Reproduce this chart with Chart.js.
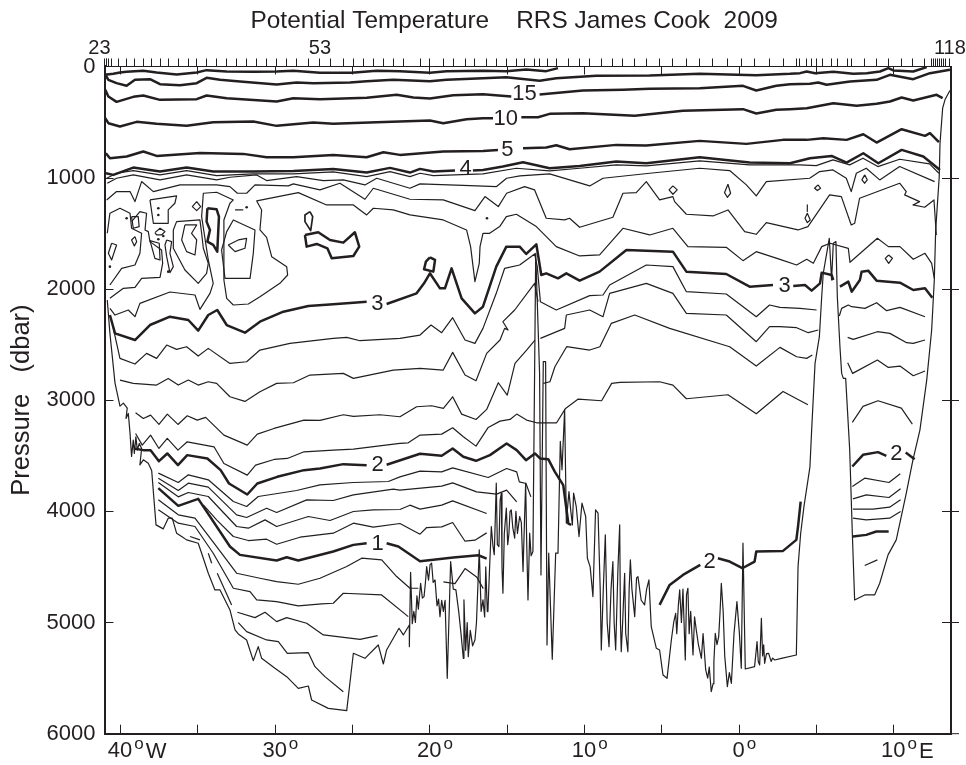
<!DOCTYPE html>
<html>
<head>
<meta charset="utf-8">
<title>Potential Temperature RRS James Cook 2009</title>
<script src="https://cdn.jsdelivr.net/npm/chart.js@4"></script>
<style>
  body { margin: 0; background: #fff; }
  canvas { display: block; }
</style>
</head>
<body>
<canvas id="section" width="966" height="765"></canvas>
<script>
// Axis values
const lonTicks = [-40, -35, -30, -25, -20, -15, -10, -5, 0, 5, 10];
const lonLabels = { "-40": "40", "-30": "30", "-20": "20", "-10": "10", "0": "0", "10": "10" };
const lonSuffix = { "-40": "W", "10": "E" };
const pressureTicks = [0, 1000, 2000, 3000, 4000, 5000, 6000];

// Station marks along the top, with the three numbered stations
const stationLons = [-40.97,-40.9,-40.84,-40.77,-40.53,-40.11,-39.57,-39.03,-38.49,-37.95,-37.41,-36.88,-36.23,-35.58,-35.04,-34.4,-33.75,-33.1,-32.46,-31.81,-31.16,-30.52,-29.87,-29.22,-28.58,-27.82,-27.07,-26.42,-25.56,-24.91,-24.27,-23.62,-22.97,-22.33,-21.68,-20.6,-19.96,-19.09,-18.45,-17.69,-17.05,-16.31,-15.67,-15.02,-14.37,-13.84,-13.19,-12.87,-12.33,-11.75,-11.03,-10.28,-9.63,-8.88,-8.13,-7.48,-6.72,-5.97,-5.11,-4.25,-3.38,-2.52,-1.66,-0.69,0.17,1.03,2,2.87,3.73,3.94,4.38,4.7,5.02,5.45,5.99,6.42,7.07,7.28,8.15,8.9,9.66,10.52,11.27,12.03,12.46,12.59,12.72,12.84,12.97,13.1,13.23,13.36,13.66];
const stationNames = { "-40.97": "23  ", "-27.07": "53", "13.66": "118" };

// Contour labels: text, longitude, pressure
const contourLabels = [
  ["15", -13.84, 240], ["10", -15.06, 465], ["5", -14.96, 741], ["4", -17.65, 909],
  ["3", -23.36, 2130], ["3", 2.97, 1965], ["2", -23.34, 3576], ["1", -23.34, 4281],
  ["2", -1.88, 4443], ["2", 10.19, 3471]
];

// Heavy isotherms, [longitude, pressure]
const nearSurface = [[-40.97,75],[-40.43,66],[-40,54],[-39.57,48],[-38.49,39],[-37.63,54],[-36.34,72],[-35.04,54],[-34.4,33],[-33.1,45],[-31.38,48],[-29.87,45],[-28.79,39],[-27.07,57],[-25.02,57],[-23.4,39],[-21.9,42],[-19.96,57],[-18.88,42],[-16.53,39],[-15.02,42],[-13.73,27],[-12.44,42],[-11.68,15]];
const upper20 = [[-40.97,66],[-40.75,120],[-40.22,150],[-39.57,174],[-39.03,120],[-38.06,114],[-37.41,159],[-36.12,168],[-35.04,150],[-34.4,102],[-33.53,120],[-32.24,135],[-29.87,162],[-28.58,144],[-27.5,150],[-25.13,144],[-24.05,132],[-22.33,120],[-19.96,132],[-18.88,120],[-16.53,105],[-15.02,96],[-12.87,129],[-11.79,105],[-9.2,84],[-5.75,81],[-2.52,66],[1.14,78],[3.32,66],[3.97,60],[4.4,45],[4.94,60],[6.12,48],[7.41,66],[8.28,60],[9.14,45],[9.68,15],[10,36],[11.29,45],[12.16,6]];
const iso15a = [[-40.95,210],[-40.75,270],[-40.22,318],[-39.14,273],[-38.49,261],[-37.41,300],[-35.04,294],[-34.4,261],[-33.1,285],[-29.87,315],[-28.79,285],[-27.07,294],[-24.05,282],[-22.11,255],[-21.03,279],[-19.96,288],[-18.45,258],[-16.53,249],[-14.7,270]];
const iso15b = [[-12.87,252],[-10.07,216],[-7.48,210],[-5.75,201],[-2.52,195],[0.28,174],[1.14,216],[2.44,174],[3.32,159],[4.61,156],[5.15,144],[5.69,165],[7.2,135],[8.92,120],[9.78,75],[11.29,114],[12.37,60],[13.66,30]];
const iso10a = [[-40.95,465],[-40.75,510],[-40,540],[-38.92,498],[-37.63,516],[-35.69,534],[-33.97,501],[-31.38,495],[-29.87,534],[-27.5,504],[-26.21,516],[-23.4,501],[-19.96,486],[-19.1,510],[-17.59,474],[-16.53,465],[-15.88,465]];
const iso10b = [[-14.05,456],[-12.97,456],[-12.22,426],[-10.07,420],[-6.72,444],[-3.6,399],[0.28,384],[1.14,423],[2.44,390],[3.32,384],[4.4,375],[6.12,330],[7.63,354],[8.92,336],[9.78,315],[10.54,279],[11.29,306],[12.8,255],[13.19,285]];
const iso5a = [[-40.91,780],[-40.65,825],[-39.57,810],[-38.49,765],[-37.63,804],[-34.83,777],[-32.03,786],[-30.52,816],[-28.79,816],[-26.21,795],[-24.05,816],[-22.97,771],[-21.9,795],[-19.1,765],[-16.53,759],[-15.56,750]];
const iso5b = [[-13.94,735],[-12.44,729],[-11.79,708],[-10.93,744],[-7.91,705],[-5.97,711],[-2.52,669],[0.5,696],[2.87,660],[4.4,660],[5.47,645],[6.98,660],[8.06,609],[8.92,684],[10.54,564],[12.05,624],[12.37,600],[12.95,681]];
const iso4a = [[-40.91,960],[-40.43,975],[-39.14,909],[-37.41,945],[-35.69,909],[-33.97,945],[-31.38,945],[-28.79,939],[-26.21,921],[-24.05,954],[-22.54,912],[-21.25,954],[-20.6,921],[-19.74,945],[-18.34,936]];
const iso4b = [[-17.18,936],[-16.53,930],[-15.24,900],[-13.94,861],[-12.22,915],[-10.28,894],[-7.91,855],[-5.97,870],[-2.52,816],[0.71,864],[3.32,870],[4.61,825],[6.01,804],[6.98,864],[8.06,780],[9.03,870],[10.54,750],[11.94,810],[13.02,930]];
const iso3a = [[-40.65,2235],[-40.32,2400],[-39.03,2460],[-38.06,2325],[-36.77,2250],[-35.58,2280],[-34.94,2376],[-34.29,2235],[-33.71,2190],[-33.1,2325],[-31.92,2394],[-30.95,2295],[-29.44,2205],[-27.82,2154],[-25.99,2136],[-24.05,2115]];
const iso3b = [[-22.76,2136],[-20.82,2040],[-20.34,1950],[-19.96,1860],[-19.31,1995],[-18.99,1995],[-18.56,1815],[-17.91,2085],[-17.05,2220],[-16.53,2160],[-15.67,1800],[-15.02,1620],[-14.16,1620],[-13.73,1686],[-13.08,1599],[-12.76,1875],[-12.44,1860],[-11.68,1905],[-11.14,1860],[-10.28,1926],[-8.99,1845],[-7.26,1650],[-4.25,1665],[-3.38,1845],[-0.8,1866],[0.71,1980],[2.22,1965]];
const iso3c = [[3.53,1974],[4.29,1965],[4.72,2016],[5.26,1950],[5.37,1854],[6.01,1875],[6.12,1920]];
const iso3d = [[6.55,1980],[7.09,1935],[7.31,2025],[7.84,1920],[7.95,1845],[8.38,1836],[8.92,1926],[10.43,1944],[11.29,2010],[12.05,1995],[12.52,2079]];
const iso3LoopA = [[-34.35,1275],[-33.75,1284],[-33.6,1350],[-33.71,1665],[-33.97,1605],[-34.35,1575],[-34.18,1470],[-34.4,1395]];
const iso3LoopB = [[-28.04,1515],[-27.18,1491],[-26.42,1560],[-25.56,1584],[-24.81,1491],[-24.53,1620],[-24.91,1704],[-26.31,1725],[-26.59,1635],[-27.28,1596],[-27.93,1620]];
const iso3LoopC = [[-19.96,1716],[-19.63,1740],[-19.74,1845],[-20.34,1824],[-20.22,1755]];
const iso3LoopD = [[-27.72,1305],[-27.54,1350],[-27.67,1476],[-28.04,1395],[-28.04,1335]];
const iso2a = [[-39.09,3435],[-38.49,3450],[-38.02,3450],[-37.48,3549],[-36.94,3480],[-36.25,3585],[-35.65,3495],[-34.35,3525],[-33.49,3630],[-32.95,3750],[-31.77,3849],[-31.12,3750],[-29.83,3690],[-28.1,3630],[-27.07,3615],[-25.56,3576],[-24.05,3585]];
const iso2b = [[-22.76,3582],[-20.6,3483],[-19.2,3501],[-18.49,3435],[-17.8,3510],[-16.98,3546],[-16.08,3495],[-15,3390],[-14.35,3450],[-13.75,3540],[-13.17,3480],[-12.84,3525],[-12.31,3531],[-11.88,3645],[-11.34,3765],[-11.01,4110],[-10.82,4122]];
const iso2c = [[-5.11,4842],[-4.46,4662],[-3.6,4572],[-2.48,4482]];
const iso2d = [[-1.34,4422],[-0.58,4452],[0.24,4512],[1.03,4452],[1.14,4362],[2.87,4356],[3.73,4257],[3.84,4137],[4.01,3912]];
const iso2e = [[7.35,3597],[8.04,3492],[9.01,3468],[9.55,3501]];
const iso2f = [[10.8,3471],[11.38,3531]];
const iso1a = [[-37.52,3792],[-36.23,3951],[-34.94,3888],[-32.89,4317],[-32.24,4392],[-29.87,4443],[-29.22,4413],[-28.47,4443],[-26.21,4362],[-24.91,4302],[-24.05,4287]];
const iso1b = [[-22.76,4287],[-22,4317],[-20.6,4449],[-18.45,4416],[-16.83,4395],[-16.29,4425]];
const iso1c = [[7.39,4227],[8.25,4212],[8.9,4182],[9.7,4182]];

// Thin isotherms
const thinA = [[-40.86,1005],[-40.22,960],[-39.14,936],[-37.41,975],[-35.69,936],[-33.75,981],[-31.38,966],[-28.79,966],[-26.21,948],[-24.05,990],[-22.54,945],[-21.25,990],[-20.6,960],[-19.74,981],[-16.53,966],[-14.37,915],[-12.22,939],[-10.28,915],[-7.91,885],[-5.97,894],[-2.52,849],[0.71,885],[3.94,885],[5.02,891],[6.1,840],[7.18,885],[8.04,825],[9,900],[10.41,834],[12.34,876],[12.95,960]];
const thinB = [[-40.82,1050],[-40.22,1005],[-39.14,975],[-37.41,1020],[-35.69,975],[-33.75,1020],[-32.89,996],[-31.16,975],[-30.52,1026],[-28.58,990],[-26.85,1026],[-25.56,1020],[-24.16,1065],[-23.4,1005],[-21.25,1095],[-20.6,1056],[-17.37,1071],[-15.65,1080],[-15,1005],[-14.14,984],[-12.22,966],[-9.63,1074],[-8.77,1005],[-5.75,960],[-2.52,915],[-0.58,936],[0.5,1065],[1.14,1164],[1.79,1035],[4.59,1005],[5.24,945],[6.1,930],[6.96,1005],[7.28,1125],[7.61,960],[8.25,915],[9.12,1020],[10.41,900],[12.67,1035]];
const thinC = [[-40.86,1200],[-40.22,1125],[-39.35,1125],[-39.03,1215],[-38.6,1035],[-37.84,1125],[-36.12,1065],[-33.75,1065],[-32.89,1080],[-32.41,1140],[-31.81,1140],[-31.27,1065],[-29.12,1074],[-28.79,1056],[-27.07,1110],[-25.78,1050],[-24.16,1194],[-23.62,1095],[-21.25,1194],[-19.1,1200],[-17.05,1296],[-16.4,1170],[-15.54,1260],[-15,1140],[-13.84,1080],[-13.19,1110],[-12.44,1365],[-11.25,1380],[-10.93,1365],[-10.28,1446],[-8.13,1356],[-7.48,1140],[-6.62,1134],[-5.97,1035],[-5.11,1200],[-4.25,1170],[-4.14,1215],[-3.38,1329],[-1.66,1344],[-0.69,1290],[0.39,1485],[1.14,1509],[1.79,1404],[3.84,1470],[4.48,1440],[5.88,1155],[6.64,1170],[7.28,1425],[7.5,1410],[7.82,1185],[10.41,1050],[10.84,1125],[10.73,1155],[11.7,1215],[11.27,1245],[12.03,1266],[12.63,1200],[12.78,1515]];
const thinD = [[-40.65,2175],[-40.32,2235],[-39.46,2190],[-39.03,2250],[-38.71,2130],[-36.77,2028],[-35.15,2055],[-34.83,2184],[-34.18,2040],[-33.97,1950],[-34.29,1740],[-34.72,1350],[-34.61,1140],[-33.75,1131],[-32.67,1200],[-32.89,1230],[-33.28,1380],[-33.28,1920],[-33.1,2085],[-32.67,2145],[-31.7,2136],[-30.95,2070],[-29.66,1950],[-29.16,1875],[-29.22,1800],[-30.19,1710],[-30.52,1536],[-30.95,1470],[-30.84,1290],[-31.16,1209],[-28.47,1134],[-26.64,1245],[-24.91,1245],[-24.05,1335],[-23.62,1275],[-22.33,1290],[-21.25,1335],[-19.1,1380],[-17.59,1470],[-17.33,1620],[-17.05,1935],[-16.77,1770],[-16.72,1620],[-16.53,1500],[-16.1,1500],[-15.45,1440],[-15.02,1350],[-14.37,1329],[-13.08,1440],[-11.79,1620],[-10.28,1704],[-8.99,1695],[-7.48,1455],[-5.75,1515],[-4.25,1455],[-3.28,1620],[-0.8,1626],[0.28,1746],[1.14,1665],[2.67,1734],[3.75,1785],[4.4,1734],[4.83,1770],[5.37,1620],[5.91,1590],[7.09,1635],[7.2,1761],[8.97,1545],[9.68,1620],[10.43,1620],[11.29,1734],[12.05,1680],[12.48,1770],[12.65,1905]];
const thinE = [[-40.65,1965],[-39.89,1815],[-39.03,1785],[-38.71,1680],[-38.6,1500],[-39.25,1455],[-39.35,1320],[-40,1275],[-40.65,1320],[-40.82,1500]];
const thinF = [[-40.65,2085],[-39.78,1995],[-39.03,1986],[-38.6,1905],[-37.41,1896],[-37.24,1770],[-37.31,1650],[-38.06,1575],[-38.17,1485],[-38.38,1470],[-38.28,1320],[-38.71,1305],[-39.25,1395]];
const thinG = [[-40.43,2355],[-40,2625],[-39.03,2676],[-38.28,2580],[-37.63,2625],[-36.98,2505],[-36.34,2544],[-35.69,2520],[-34.94,2604],[-34.29,2535],[-32.89,2670],[-31.81,2655],[-30.95,2550],[-29.01,2490],[-26.21,2445],[-25.34,2436],[-24.48,2466],[-21.9,2445],[-20.6,2415],[-19.89,2325],[-19.2,2394],[-18.49,2259],[-17.69,2460],[-17.05,2490],[-16.53,2355],[-15.67,2040],[-15.13,1815],[-14.16,1785],[-13.19,1686],[-13.02,1800],[-12.82,2115],[-11.79,2190],[-9.63,2061],[-8.77,2055],[-8.34,1965],[-5.97,1785],[-4.25,1800],[-3.38,2025],[-0.8,2046],[1.14,2250],[2,2145],[2.67,2166],[3.97,2175],[5.04,2190]];
const thinH = [[-40,2820],[-39.14,2850],[-37.63,2865],[-36.88,2805],[-36.23,2865],[-35.58,2820],[-34.94,2865],[-34.29,2835],[-33.75,2850],[-32.89,2970],[-31.92,3012],[-30.95,2925],[-29.87,2850],[-28.79,2844],[-27.72,2775],[-25.56,2760],[-24.91,2805],[-22.33,2730],[-20.6,2715],[-19.1,2730],[-18.49,2571],[-17.69,2775],[-16.98,2826],[-16.29,2580],[-15.43,2460],[-15.13,2355],[-14.91,2370],[-15.24,2295],[-14.48,2190],[-13.19,1950],[-12.97,2115]];
const thinI = [[-12.82,2445],[-11.25,2355],[-11.14,2235],[-9.63,2190],[-8.77,2250],[-8.34,2040],[-5.97,1950],[-4.25,2040],[-3.38,2220],[-0.8,2235],[1.14,2475],[2,2340],[2.67,2340],[3.75,2349],[4.5,2394],[5.15,2370]];
const thinJ = [[-38.99,3114],[-38.49,3165],[-38.02,3135],[-37.48,3219],[-36.94,3126],[-36.25,3219],[-35.65,3141],[-35,3180],[-34.46,3156],[-33.28,3315],[-31.77,3405],[-31.12,3306],[-30.04,3255],[-28.1,3180],[-27.07,3183],[-25.56,3132],[-24.91,3147],[-23.19,3132],[-21.9,3150],[-20.82,3060],[-19.85,3051],[-19.09,3075],[-18.49,2970],[-17.91,3126],[-16.98,3174],[-16.29,3084],[-15.54,2844],[-14.96,2955],[-14.46,2670],[-13.71,2550],[-13.17,2460]];
const thinK = [[-12.63,2850],[-12.2,2835],[-11.88,2700],[-11.12,2520],[-9.63,2550],[-8.97,2520],[-8.23,2310],[-6.72,2235],[-4.46,2355],[-0.58,2520],[1.14,2694],[2.67,2526],[3.75,2610],[4.4,2625],[4.76,2595]];
const thinL = [[-38.99,3300],[-38.56,3405],[-38.02,3315],[-37.48,3435],[-36.94,3345],[-36.25,3450],[-35.65,3375],[-33.92,3420],[-33.28,3570],[-31.77,3675],[-31.23,3585],[-30.04,3534],[-29.18,3525],[-28.1,3465],[-26.21,3450],[-24.91,3441],[-21.9,3390],[-21.36,3384],[-20.6,3315],[-19.2,3306],[-18.49,3249],[-17.8,3330],[-16.98,3414],[-16.19,3246],[-15.43,3189],[-14.78,3174],[-14.35,3126],[-13.71,3180],[-13.06,3204],[-11.77,3204],[-11.19,3075],[-10.37,2991],[-8.86,3006],[-8.21,2850],[-7.67,2841],[-5.11,2835],[-4.25,2865],[-3.38,2988],[-0.69,2952],[1.14,3123],[2.87,2922],[4.48,3042]];
const thinM = [[-37.52,3657],[-36.23,3741],[-35.58,3672],[-34.29,3717],[-32.67,3912],[-31.81,3957],[-31.06,3867],[-28.58,3813],[-27.07,3762],[-24.91,3741],[-22.65,3732],[-21.9,3690],[-20.6,3639],[-19.2,3645],[-18.49,3609],[-16.19,3696],[-15,3615],[-14.35,3645],[-14.18,3735],[-13.75,3750],[-13.43,3870]];
const thinN = [[-37.52,3702],[-36.23,3813],[-35.58,3747],[-34.29,3783],[-32.46,4032],[-31.81,4056],[-30.52,3972],[-29.87,4011],[-27.93,3897],[-26.21,3903],[-24.91,3852],[-22.33,3801],[-21.9,3810],[-19.2,3774],[-18.49,3744],[-16.94,3825],[-15.65,3846],[-15,3810],[-14.35,3915]];
const thinO = [[-37.52,3741],[-36.23,3870],[-35.58,3831],[-34.29,3867],[-32.46,4137],[-31.7,4152],[-30.62,4077],[-29.87,4137],[-27.82,4047],[-26.42,4083],[-24.91,4002],[-23.62,3987],[-21.9,3984],[-21.25,3945],[-20.6,3981],[-19.2,3945],[-18.49,3906],[-16.29,4020]];
const thinP = [[-34.61,3942],[-33.75,4077],[-32.67,4227],[-31.7,4263],[-30.52,4251],[-29.87,4296],[-28.36,4233],[-26.21,4197],[-24.91,4107],[-23.62,4143],[-21.9,4110],[-20.6,4206],[-20.17,4146],[-19.2,4140],[-18.49,4101],[-17.69,4269],[-17.05,4260],[-16.29,4194]];
const thinQ = [[-37.52,3897],[-36.23,4032],[-35.15,4062],[-33.75,4317],[-32.46,4557],[-30.95,4602],[-29.87,4632],[-28.47,4656],[-27.07,4602],[-25.34,4497],[-24.37,4422],[-23.08,4437],[-22.11,4587],[-21.25,4692],[-20.71,4692]];
const thinR = [[-37.52,3987],[-36.23,4107],[-35.15,4137],[-33.97,4377],[-32.67,4692],[-31.59,4722],[-31.16,4797],[-29.87,4812],[-28.47,4851],[-26.96,4833],[-26.21,4827],[-25.56,4737],[-23.08,4752],[-21.36,4947]];
const thinS = [[-32.41,4908],[-31.27,4956],[-30.62,4908],[-29.87,4992],[-29.22,4956],[-27.93,5007],[-26.85,5112],[-24.48,5151],[-23.34,5118]];
const thinT = [[-32.35,5001],[-31.81,5082],[-30.52,5157],[-29.76,5172],[-29.18,5277],[-27.82,5271],[-27.39,5397],[-26.75,5487],[-25.56,5622]];
const thinU = [[-19.09,4635],[-18.34,4650],[-17.69,4515],[-16.94,4590],[-16.51,4695]];
const thinDash1 = [[-35.47,4227],[-34.83,4257]];
const thinDash2 = [[-34.29,4377],[-34.07,4467]];
const thinDash3 = [[-33.71,4557],[-32.78,4842]];
const thinDash4 = [[-32.56,1290],[-32.03,1290]];
const thinDash5 = [[4.44,1245],[4.44,1305]];
const eastA = [[6.51,2244],[6.66,2175],[7.09,2145],[7.31,2160],[8.17,2175],[8.92,2124],[9.57,2196],[10.43,2166],[12.05,2250]];
const eastB = [[7.05,2436],[7.41,2454],[8.97,2385],[9.78,2400],[10.86,2484],[11.29,2490],[12.05,2460]];
const eastC = [[7.05,2664],[7.37,2760],[8.97,2640],[9.68,2706],[10.43,2694],[11.29,2781],[12.05,2739]];
const eastD = [[7.35,3201],[8.04,3057],[9.01,3006],[10.52,3072],[11.23,3216]];
const eastE = [[7.35,3777],[8.15,3702],[9.72,3741],[10.45,3663]];
const eastF = [[7.39,3888],[8.25,3852],[9.72,3876],[10.47,3798]];
const eastG = [[7.39,3981],[8.69,3981],[9.76,3963],[10.47,3897]];
const eastH = [[7.39,4062],[8.25,4077],[9.76,4062],[10.47,4002]];
const eastI = [[8.15,4488],[8.97,4437]];

// Small closed thin contours
const loops = [
  [[-38.06,1200],[-36.34,1164],[-36.45,1230],[-36.88,1290],[-36.88,1410],[-37.84,1410]],
  [[-35.04,1215],[-34.78,1260],[-35.04,1296],[-35.32,1260]],
  [[-39.25,1350],[-38.82,1350],[-38.76,1440],[-39.14,1455]],
  [[-39.03,1530],[-38.92,1575],[-39.07,1614],[-39.25,1560]],
  [[-38.06,1566],[-37.46,1590],[-37.41,1740],[-37.74,1725]],
  [[-36.98,1560],[-36.66,1575],[-36.77,1680],[-36.55,1800],[-36.77,1854],[-36.98,1710],[-37.09,1605]],
  [[-37.74,1494],[-37.41,1455],[-37.09,1485],[-37.31,1515],[-37.63,1515]],
  [[-36.55,1470],[-36.34,1395],[-34.83,1380],[-34.72,1500],[-34.61,1635],[-34.29,1770],[-34.4,1860],[-34.94,1950],[-35.8,1830],[-36.55,1635]],
  [[-35.8,1425],[-35.04,1425],[-35.37,1500],[-35.04,1560],[-35.15,1695],[-35.69,1665],[-36.01,1560]],
  [[-33.1,1485],[-32.67,1380],[-31.27,1470],[-31.38,1680],[-31.59,1905],[-33.21,1905],[-33.43,1650]],
  [[-33,1605],[-32.35,1560],[-31.81,1545],[-31.92,1635],[-32.56,1665]],
  [[-40.54,1590],[-40.22,1605],[-40.54,1740],[-40.75,1680]],
  [[-4.25,1074],[-3.97,1110],[-4.25,1149],[-4.5,1110]],
  [[-0.69,1059],[-0.52,1140],[-0.73,1176],[-0.91,1134]],
  [[5.13,1065],[5.3,1095],[5.09,1116],[4.91,1095]],
  [[8.15,975],[8.32,1020],[8.15,1050],[7.97,1020]],
  [[4.44,1320],[4.63,1380],[4.44,1404],[4.29,1365]],
  [[9.7,1695],[9.94,1725],[9.7,1770],[9.48,1725]]
];
const contourDots = [[-37.52,1275],[-37.52,1335],[-37.52,1554],[-37.2,1524],[-36.88,1845],[-40.65,1800],[-31.81,1266],[-39.57,1365],[-16.27,1365]];

// Sea floor along the section
const seaFloor = [[-40.82,2100],[-40.65,2400],[-40.32,2847],[-40,3054],[-39.78,3027],[-39.53,3072],[-39.61,3165],[-39.46,3120],[-39.35,3297],[-39.25,3507],[-39.14,3360],[-39.07,3480],[-38.97,3330],[-38.88,3450],[-38.75,3390],[-38.6,3435],[-38.71,3582],[-38.49,3537],[-38.17,3567],[-37.95,3633],[-37.67,4122],[-37.2,4158],[-36.88,4062],[-36.62,4062],[-36.34,4197],[-36.01,4227],[-35.69,4257],[-34.94,4287],[-34.72,4377],[-34.29,4557],[-33.86,4707],[-33.53,4707],[-32.89,4887],[-32.56,5067],[-32.35,5103],[-31.81,5157],[-31.38,5343],[-31.06,5217],[-30.84,5322],[-29.98,5412],[-29.22,5487],[-28.47,5592],[-27.82,5571],[-27.61,5697],[-26.53,5772],[-25.34,5793],[-24.91,5277],[-24.16,5322],[-23.3,5202],[-22.97,5373],[-22.76,5247],[-21.96,5052],[-21.68,5112],[-21.29,5022],[-21.29,5217],[-21.21,4548],[-21.1,5010],[-21,4900],[-20.9,5000],[-20.8,4760],[-20.71,4880],[-20.62,4740],[-20.56,4647],[-20.45,4780],[-20.34,4767],[-20.25,4640],[-20.17,4497],[-20.05,4620],[-19.95,4480],[-19.85,4467],[-19.75,4640],[-19.63,4617],[-19.5,4850],[-19.4,4790],[-19.31,4947],[-19.2,4800],[-19.09,4900],[-18.98,4800],[-18.84,5502],[-18.62,4452],[-18.45,4700],[-18.28,4707],[-18.1,4900],[-17.95,5100],[-17.8,5322],[-17.76,4797],[-17.65,5250],[-17.55,5000],[-17.48,5307],[-17.35,5070],[-17.2,5210],[-17.05,5157],[-16.95,5000],[-16.77,4347],[-16.65,4900],[-16.53,4797],[-16.42,4950],[-16.35,4500],[-16.25,4900],[-16.21,4902],[-16.1,4500],[-15.99,4137],[-15.88,4317],[-15.8,4390],[-15.73,4050],[-15.67,3747],[-15.6,4300],[-15.5,4317],[-15.42,3900],[-15.34,3837],[-15.3,4500],[-15.24,4737],[-15.15,4200],[-15.02,3972],[-14.93,4300],[-14.85,4197],[-14.78,4000],[-14.7,3987],[-14.6,4150],[-14.48,4242],[-14.4,4000],[-14.3,4200],[-14.16,4047],[-14.05,4100],[-13.94,4542],[-13.85,4100],[-13.77,3747],[-13.7,4300],[-13.62,4797],[-13.51,4197],[-13.42,4400],[-13.3,4362],[-13.12,1680],[-12.87,2760],[-12.78,4572],[-12.63,2655],[-12.48,2655],[-12.39,5202],[-12.28,4377],[-12.05,5331],[-11.83,4377],[-11.68,4377],[-11.53,3372],[-11.42,3627],[-11.25,3087],[-11.14,4107],[-11.05,3950],[-10.97,3822],[-10.85,4000],[-10.75,4122],[-10.67,3837],[-10.5,3957],[-10.32,4227],[-10.13,3927],[-9.89,4047],[-9.78,4422],[-9.6,4500],[-9.42,4767],[-9.25,3987],[-9.09,4017],[-8.95,4700],[-8.88,5247],[-8.75,4700],[-8.62,4212],[-8.5,5000],[-8.38,5217],[-8.25,4700],[-8.13,4452],[-8.05,5000],[-7.95,5247],[-7.8,4500],[-7.69,4122],[-7.64,5000],[-7.59,5262],[-7.5,5000],[-7.37,4557],[-7.3,5100],[-7.16,5262],[-7.08,4700],[-7,4437],[-6.9,4700],[-6.72,4947],[-6.6,4600],[-6.51,4587],[-6.3,4800],[-6.08,4842],[-5.95,4700],[-5.8,4617],[-5.65,5037],[-5.32,5232],[-5.11,5247],[-4.89,5472],[-4.63,5502],[-4.35,5157],[-4.2,5000],[-4.07,4917],[-4,5100],[-3.9,4850],[-3.81,4707],[-3.7,5000],[-3.6,4700],[-3.45,5337],[-3.37,4750],[-3.28,4692],[-3.2,5100],[-3.1,4900],[-2.95,5292],[-2.85,4950],[-2.74,5067],[-2.6,5200],[-2.41,5322],[-2.3,5100],[-2.13,5427],[-2,5500],[-1.9,5400],[-1.77,5622],[-1.65,5550],[-1.6,5350],[-1.51,5097],[-1.4,5200],[-1.29,5127],[-1.2,4900],[-1.12,4647],[-1,4900],[-0.9,5300],[-0.73,5577],[-0.6,5450],[-0.47,5547],[-0.3,5100],[-0.11,4812],[0.05,5100],[0.17,5412],[0.28,4287],[0.43,5418],[1.03,5397],[1.1,5300],[1.19,5172],[1.27,5350],[1.36,5382],[1.47,4962],[1.55,5300],[1.62,5200],[1.68,5367],[1.8,5280],[1.94,5277],[2.1,5350],[2.2,5320],[2.33,5337],[2.76,5322],[3.73,5292],[3.84,4500],[4.01,4200],[4.22,3960],[4.61,3600],[4.72,3270],[4.94,2670],[5.22,2430],[5.37,2070],[5.47,1860],[5.86,1545],[6.01,1920],[6.12,1590],[6.29,1575],[6.38,2070],[6.55,2520],[6.66,2760],[6.77,2805],[6.92,2805],[7.18,3447],[7.35,4197],[7.5,4797],[8.15,4752],[8.79,4752],[9.12,4647],[9.66,4392],[10.19,4257],[10.84,3837],[11.27,3537],[11.72,3270],[12.16,2820],[12.48,2370],[12.65,1920],[12.74,1470],[12.97,990],[13.02,690],[13.19,375],[13.34,300],[13.66,216]];

const ink = "#231f20";
const fontName = '"Liberation Sans", Arial, sans-serif';

const closeLoop = (pts) => [...pts, pts[0]];
const lineSet = (pts, width) => ({
  data: pts,
  showLine: true,
  borderColor: ink,
  borderWidth: width,
  pointRadius: 0,
  tension: 0,
  borderJoinStyle: "round",
  xAxisID: "x",
  yAxisID: "y",
});

const heavyLines = [nearSurface, upper20, iso15a, iso15b, iso10a, iso10b, iso5a, iso5b, iso4a, iso4b,
  iso3a, iso3b, iso3c, iso3d, closeLoop(iso3LoopA), closeLoop(iso3LoopB), closeLoop(iso3LoopC),
  iso2a, iso2b, iso2c, iso2d, iso2e, iso2f, iso1a, iso1b, iso1c];
const thinLines = [thinA, thinB, thinC, thinD, thinE, thinF, thinG, thinH, thinI, thinJ, thinK, thinL,
  thinM, thinN, thinO, thinP, thinQ, thinR, thinS, thinT, thinU,
  thinDash1, thinDash2, thinDash3, thinDash4, thinDash5,
  eastA, eastB, eastC, eastD, eastE, eastF, eastG, eastH, eastI, ...loops.map(closeLoop)];

const datasets = [
  lineSet(seaFloor, 1.2),
  ...thinLines.map((pts) => lineSet(pts, 1.2)),
  lineSet(closeLoop(iso3LoopD), 1.7),
  ...heavyLines.map((pts) => lineSet(pts, 2.5)),
  {
    data: contourDots,
    showLine: false,
    pointRadius: 1.3,
    pointBackgroundColor: ink,
    pointBorderWidth: 0,
    xAxisID: "x",
    yAxisID: "y",
  },
];

// Inward axis ticks, the right frame line, contour labels and the degree marks
const sectionExtras = {
  id: "sectionExtras",
  afterDatasetsDraw(chart) {
    const { ctx, chartArea: area, scales } = chart;
    ctx.save();
    ctx.strokeStyle = ink;
    ctx.fillStyle = ink;

    ctx.lineWidth = 1;
    ctx.beginPath();
    lonTicks.forEach((lon) => {
      const x = Math.round(scales.x.getPixelForValue(lon)) + 0.5;
      ctx.moveTo(x, area.top);
      ctx.lineTo(x, area.top + 8);
      ctx.moveTo(x, area.bottom);
      ctx.lineTo(x, area.bottom - 9);
    });
    pressureTicks.slice(1, -1).forEach((p) => {
      const y = Math.round(scales.y.getPixelForValue(p)) + 0.5;
      ctx.moveTo(area.left, y);
      ctx.lineTo(area.left + 9, y);
      ctx.moveTo(area.right - 9, y);
      ctx.lineTo(area.right + 8, y);
    });
    ctx.moveTo(area.right, area.bottom);
    ctx.lineTo(area.right + 8, area.bottom);
    ctx.stroke();

    ctx.lineWidth = 2;
    ctx.beginPath();
    ctx.moveTo(area.right, area.top);
    ctx.lineTo(area.right, area.bottom);
    ctx.stroke();

    // Contour labels sit in gaps left in the lines
    ctx.font = `22px ${fontName}`;
    ctx.textAlign = "center";
    ctx.textBaseline = "middle";
    contourLabels.forEach(([text, lon, p]) => {
      ctx.fillText(text, scales.x.getPixelForValue(lon), scales.y.getPixelForValue(p) + 1);
    });

    // Raised "o" and hemisphere letter after the longitude labels
    ctx.textAlign = "left";
    const labelY = area.bottom + 18;
    Object.keys(lonLabels).forEach((key) => {
      const digits = lonLabels[key];
      ctx.font = `22px ${fontName}`;
      const x = scales.x.getPixelForValue(Number(key)) + ctx.measureText(digits).width / 2;
      ctx.font = `17px ${fontName}`;
      ctx.fillText("o", x + 2, labelY - 7);
      if (lonSuffix[key]) {
        const w = ctx.measureText("o").width;
        ctx.font = `22px ${fontName}`;
        ctx.fillText(lonSuffix[key], x + w + 4, labelY);
      }
    });
    ctx.restore();
  },
};

new Chart(document.getElementById("section").getContext("2d"), {
  type: "scatter",
  data: { datasets },
  plugins: [sectionExtras],
  options: {
    responsive: false,
    animation: false,
    layout: { padding: { right: 15, left: 0, top: 0, bottom: 0 } },
    plugins: {
      legend: { display: false },
      tooltip: { enabled: false },
      title: {
        display: true,
        fullSize: false,
        text: "Potential Temperature    RRS James Cook  2009    ",
        color: ink,
        font: { family: fontName, size: 24.4, weight: "normal" },
        padding: { top: 7, bottom: 0 },
      },
    },
    scales: {
      x: {
        type: "linear",
        position: "bottom",
        min: -41,
        max: 13.73,
        afterBuildTicks: (scale) => { scale.ticks = lonTicks.map((value) => ({ value })); },
        afterFit: (scale) => { scale.height = 31.3; },
        ticks: {
          autoSkip: false,
          maxRotation: 0,
          padding: 4,
          color: ink,
          font: { family: fontName, size: 22 },
          callback: (value) => lonLabels[value] || "",
        },
        grid: { drawOnChartArea: false, drawTicks: false },
        border: { display: true, color: ink, width: 2 },
      },
      x2: {
        type: "linear",
        axis: "x",
        position: "top",
        min: -41,
        max: 13.73,
        afterBuildTicks: (scale) => { scale.ticks = stationLons.map((value) => ({ value })); },
        afterFit: (scale) => { scale.height = 30.2; },
        ticks: {
          autoSkip: false,
          maxRotation: 0,
          padding: -2,
          color: ink,
          font: { family: fontName, size: 20 },
          callback: (value) => stationNames[value] || "",
        },
        grid: { drawOnChartArea: false, drawTicks: true, tickLength: 8, color: ink, lineWidth: 1 },
        border: { display: true, color: ink, width: 1 },
      },
      y: {
        type: "linear",
        position: "left",
        reverse: true,
        min: 0,
        max: 6000,
        afterBuildTicks: (scale) => { scale.ticks = pressureTicks.map((value) => ({ value })); },
        afterFit: (scale) => { scale.width = 104.5; },
        title: {
          display: true,
          text: "Pressure   (dbar)",
          color: ink,
          font: { family: fontName, size: 25.5, weight: "normal" },
          padding: { top: 6.5, bottom: 0 },
        },
        ticks: {
          padding: 9,
          color: ink,
          font: { family: fontName, size: 22 },
          callback: (value) => String(value),
        },
        grid: { drawOnChartArea: false, drawTicks: false },
        border: { display: true, color: ink, width: 2 },
      },
    },
  },
});
</script>
</body>
</html>
